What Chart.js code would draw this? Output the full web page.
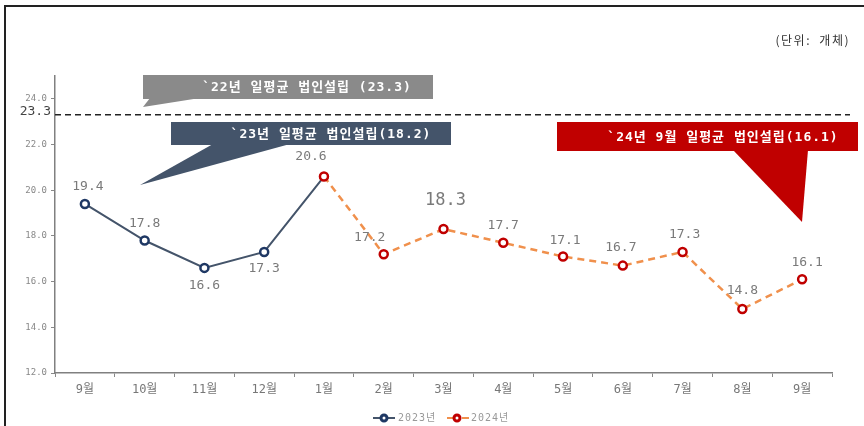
<!DOCTYPE html>
<html>
<head>
<meta charset="utf-8">
<script src="https://cdn.jsdelivr.net/npm/chart.js@4"></script>
<style>
  html, body { margin: 0; padding: 0; background: #fff; }
  #wrap { position: relative; width: 864px; height: 426px; overflow: hidden; }
  #frame { position: absolute; left: 4px; top: 5px; width: 900px; height: 440px; border: 2px solid #222; pointer-events: none; }
</style>
</head>
<body>
<div id="wrap">
  <canvas id="lineChart" width="864" height="426"></canvas>
  <div id="frame"></div>
</div>
<script>
// data
const months = ['9월', '10월', '11월', '12월', '1월', '2월', '3월', '4월', '5월', '6월', '7월', '8월', '9월'];
const values2023 = [19.4, 17.8, 16.6, 17.3, 20.6, null, null, null, null, null, null, null, null];
const values2024 = [null, null, null, null, 20.6, 17.2, 18.3, 17.7, 17.1, 16.7, 17.3, 14.8, 16.1];
const yTicks = [12, 14, 16, 18, 20, 22, 24];
const avg2022 = 23.3;

const monoFont = "'DejaVu Sans Mono', 'Noto Sans CJK KR', monospace";
const korFont = "'Noto Sans CJK KR', 'DejaVu Sans', sans-serif";

// label placement for each point (dx, dy from point) - null = no label
const labels2023 = [[3, -17], [0, -17], [0, 18], [0, 17], [-13, -20], null, null, null, null, null, null, null, null];
const labels2024 = [null, null, null, null, null, [-14, -17], [2, -28], [0, -17], [2, -16], [-2, -18], [2, -17], [0, -18], [5, -17]];

// dashed average line, callouts, data labels and legend
const extras = {
    id: 'extras',
    afterDatasetsDraw(chart) {
        const ctx = chart.ctx;
        const y = chart.scales.y;
        const area = chart.chartArea;

        // 22년 average dashed line
        const yAvg = y.getPixelForValue(avg2022);
        ctx.save();
        ctx.strokeStyle = '#222';
        ctx.lineWidth = 1.5;
        ctx.setLineDash([6, 4]);
        ctx.beginPath();
        ctx.moveTo(area.left, yAvg);
        ctx.lineTo(850, yAvg);
        ctx.stroke();
        ctx.setLineDash([]);
        ctx.fillStyle = '#444';
        ctx.font = '13px ' + monoFont;
        ctx.textAlign = 'right';
        ctx.textBaseline = 'middle';
        ctx.fillText(avg2022.toFixed(1), 51, yAvg - 3);
        ctx.restore();

        // callout boxes
        function callout(color, box, tail, text, cx) {
            ctx.save();
            ctx.fillStyle = color;
            ctx.fillRect(box[0], box[1], box[2], box[3]);
            ctx.beginPath();
            ctx.moveTo(tail[0][0], tail[0][1]);
            ctx.lineTo(tail[1][0], tail[1][1]);
            ctx.lineTo(tail[2][0], tail[2][1]);
            ctx.closePath();
            ctx.fill();
            ctx.fillStyle = '#fff';
            ctx.font = 'bold 13px ' + monoFont;
            ctx.letterSpacing = '1px';
            ctx.textAlign = 'center';
            ctx.textBaseline = 'middle';
            ctx.fillText(text, cx, box[1] + box[3] / 2 + 1);
            ctx.restore();
        }
        callout('#8a8a8a', [143, 75, 290, 24], [[150, 98], [200, 98], [143, 107]], '`22년 일평균 법인설립 (23.3)', 307);
        callout('#44546a', [171, 122, 280, 23], [[213, 144], [290, 144], [140, 185]], '`23년 일평균 법인설립(18.2)', 331);
        callout('#c00000', [557, 122, 301, 29], [[733, 150], [808, 150], [802, 222]], '`24년 9월 일평균 법인설립(16.1)', 723);

        // data labels
        ctx.save();
        ctx.fillStyle = '#7a7a7a';
        ctx.textAlign = 'center';
        ctx.textBaseline = 'middle';
        [[0, labels2023, values2023], [1, labels2024, values2024]].forEach(([di, offs, vals]) => {
            const meta = chart.getDatasetMeta(di);
            meta.data.forEach((pt, i) => {
                if (!offs[i] || vals[i] == null) return;
                ctx.font = (vals[i] === 18.3 ? '17px ' : '13px ') + monoFont;
                ctx.fillText(vals[i].toFixed(1), pt.x + offs[i][0], pt.y + offs[i][1]);
            });
        });
        ctx.restore();

        // legend
        ctx.save();
        const ly = 418;
        ctx.lineWidth = 2;
        ctx.strokeStyle = '#44546a';
        ctx.beginPath(); ctx.moveTo(373, ly); ctx.lineTo(395, ly); ctx.stroke();
        ctx.strokeStyle = '#1f3864';
        ctx.fillStyle = '#fff';
        ctx.lineWidth = 3;
        ctx.beginPath(); ctx.arc(384, ly, 3, 0, Math.PI * 2); ctx.fill(); ctx.stroke();
        ctx.strokeStyle = '#f0904c';
        ctx.lineWidth = 2;
        ctx.beginPath(); ctx.moveTo(447, ly); ctx.lineTo(453, ly); ctx.moveTo(462, ly); ctx.lineTo(469, ly); ctx.stroke();
        ctx.strokeStyle = '#c00000';
        ctx.lineWidth = 3;
        ctx.beginPath(); ctx.arc(457, ly, 3, 0, Math.PI * 2); ctx.fill(); ctx.stroke();
        ctx.fillStyle = '#999';
        ctx.font = '10px ' + monoFont;
        ctx.letterSpacing = '1px';
        ctx.textBaseline = 'middle';
        ctx.fillText('2023년', 398, ly);
        ctx.fillText('2024년', 471, ly);
        ctx.restore();

        // unit
        ctx.save();
        ctx.fillStyle = '#333';
        ctx.font = '12px ' + korFont;
        ctx.letterSpacing = '1.5px';
        ctx.textAlign = 'right';
        ctx.textBaseline = 'middle';
        ctx.fillText('(단위:  개체)', 850, 40);
        ctx.restore();
    }
};

document.addEventListener('DOMContentLoaded', function () {
    const ctx = document.getElementById('lineChart').getContext('2d');
    new Chart(ctx, {
        type: 'line',
        data: {
            labels: months,
            datasets: [
                {
                    label: '2023년',
                    data: values2023,
                    borderColor: '#44546a',
                    borderWidth: 2,
                    pointRadius: [4, 4, 4, 4, 0],
                    pointBorderWidth: 2.5,
                    pointBorderColor: '#1f3864',
                    pointBackgroundColor: '#fff',
                    tension: 0,
                    order: 1
                },
                {
                    label: '2024년',
                    data: values2024,
                    borderColor: '#f0904c',
                    borderWidth: 2.5,
                    borderDash: [7, 5],
                    pointRadius: 4,
                    pointBorderWidth: 2.5,
                    pointBorderColor: '#c00000',
                    pointBackgroundColor: '#fff',
                    tension: 0,
                    order: 0
                }
            ]
        },
        options: {
            responsive: false,
            animation: false,
            layout: { padding: { top: 76, right: 32, left: 0, bottom: 0 } },
            plugins: {
                legend: { display: false },
                tooltip: { enabled: false }
            },
            scales: {
                x: {
                    offset: true,
                    grid: { drawOnChartArea: false, offset: true, tickLength: 4, color: '#888' },
                    border: { color: '#808080', width: 1.5 },
                    ticks: { color: '#777', font: { family: monoFont, size: 12 }, padding: 6, maxRotation: 0, autoSkip: false },
                    afterFit(scale) { scale.height = 53; }
                },
                y: {
                    min: 12,
                    max: 25,
                    afterBuildTicks(scale) { scale.ticks = yTicks.map(v => ({ value: v })); },
                    grid: { drawOnChartArea: false, tickLength: 4, color: '#888' },
                    border: { color: '#808080', width: 1.5 },
                    ticks: {
                        color: '#888',
                        font: { family: monoFont, size: 9 },
                        padding: 4,
                        callback: v => Number(v).toFixed(1)
                    },
                    afterFit(scale) { scale.width = 55; }
                }
            }
        },
        plugins: [extras]
    });
});
</script>
</body>
</html>
